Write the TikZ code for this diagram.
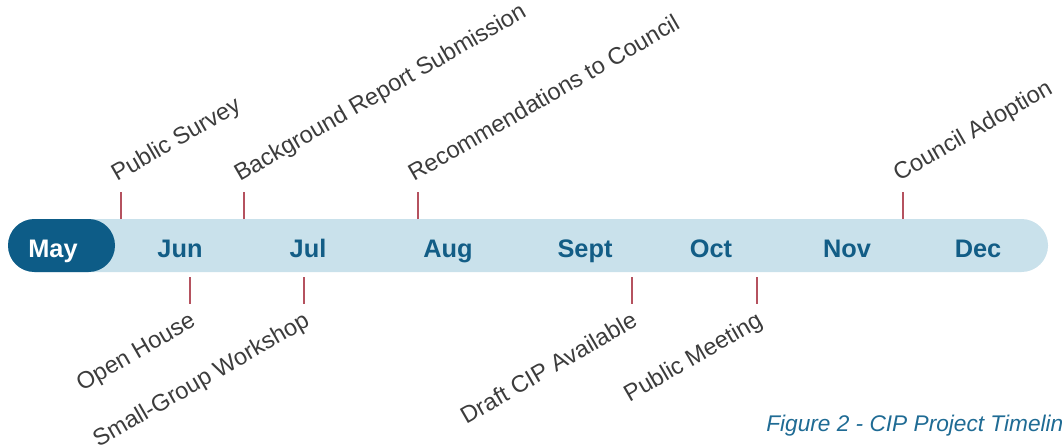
\documentclass[tikz,border=0pt]{standalone}
\usepackage{fontspec}
\setmainfont{Liberation Sans}
\usepackage{tikz}
\usetikzlibrary{positioning}
\usetikzlibrary{calc}

\definecolor{barlight}{HTML}{C9E1EB}
\definecolor{bardark}{HTML}{0D5C87}
\definecolor{monthblue}{HTML}{125D86}
\definecolor{tickred}{HTML}{B5525F}
\definecolor{eventgray}{HTML}{3C3C3C}
\definecolor{capblue}{HTML}{1F6B94}

\tikzset{
  month/.style={font=\bfseries\fontsize{19}{19}\selectfont, text=monthblue, anchor=base, inner sep=0},
  event/.style={font=\fontsize{17.7}{17.7}\selectfont, text=eventgray, inner sep=0, rotate=30},
  tickline/.style={draw=tickred, line width=1.4pt}
}

\begin{document}
\begin{tikzpicture}[x=0.75pt,y=-0.75pt]

  \useasboundingbox (0,0) rectangle (1062,447);

	%bar
  \def\ya{219};
  \def\yb{272};
  \fill[barlight, rounded corners=19.8pt] (8,\ya) rectangle (1048,\yb);
  \fill[bardark, rounded corners=19.8pt] (8,\ya) rectangle (115,\yb);

	%months
  \node[month, text=white] (may) at (53,257) {May};
    \foreach \x/\num/\name in {180/Jun/jun,308/Jul/jul,448/Aug/aug,585/Sept/sep,711/Oct/oct,847/Nov/nov,978/Dec/dec}{
         \node[month] (\name) at (\x,257) {\num};
    }

	%events above the bar
    \foreach \x/\num/\name in {121/Public Survey/up1,244/Background Report Submission/up2,418/Recommendations to Council/up3,903/Council Adoption/up4}{
         \coordinate (\name-in) at (\x,\ya);
         \coordinate (\name-out) at (\x,192);
         \draw[tickline] (\name-in) -- (\name-out);
         \node[event, anchor=base west] (\name) at ([shift={(-4,-10)}]\name-out) {\num};
    }

	%events below the bar
    \foreach \x/\num/\name in {190/Open House/dn1,304/Small-Group Workshop/dn2,632/Draft CIP Available/dn3,757/Public Meeting/dn4}{
         \coordinate (\name-in) at (\x,277);
         \coordinate (\name-out) at (\x,304);
         \draw[tickline] (\name-in) -- (\name-out);
         \node[event, anchor=base east] (\name) at ([shift={(7,21)}]\name-out) {\num};
    }

	%caption
  \node[font=\itshape\fontsize{17}{17}\selectfont, text=capblue, anchor=base west, inner sep=0] (caption) at (766,431) {Figure 2 - CIP Project Timeline};

\end{tikzpicture}
\end{document}
